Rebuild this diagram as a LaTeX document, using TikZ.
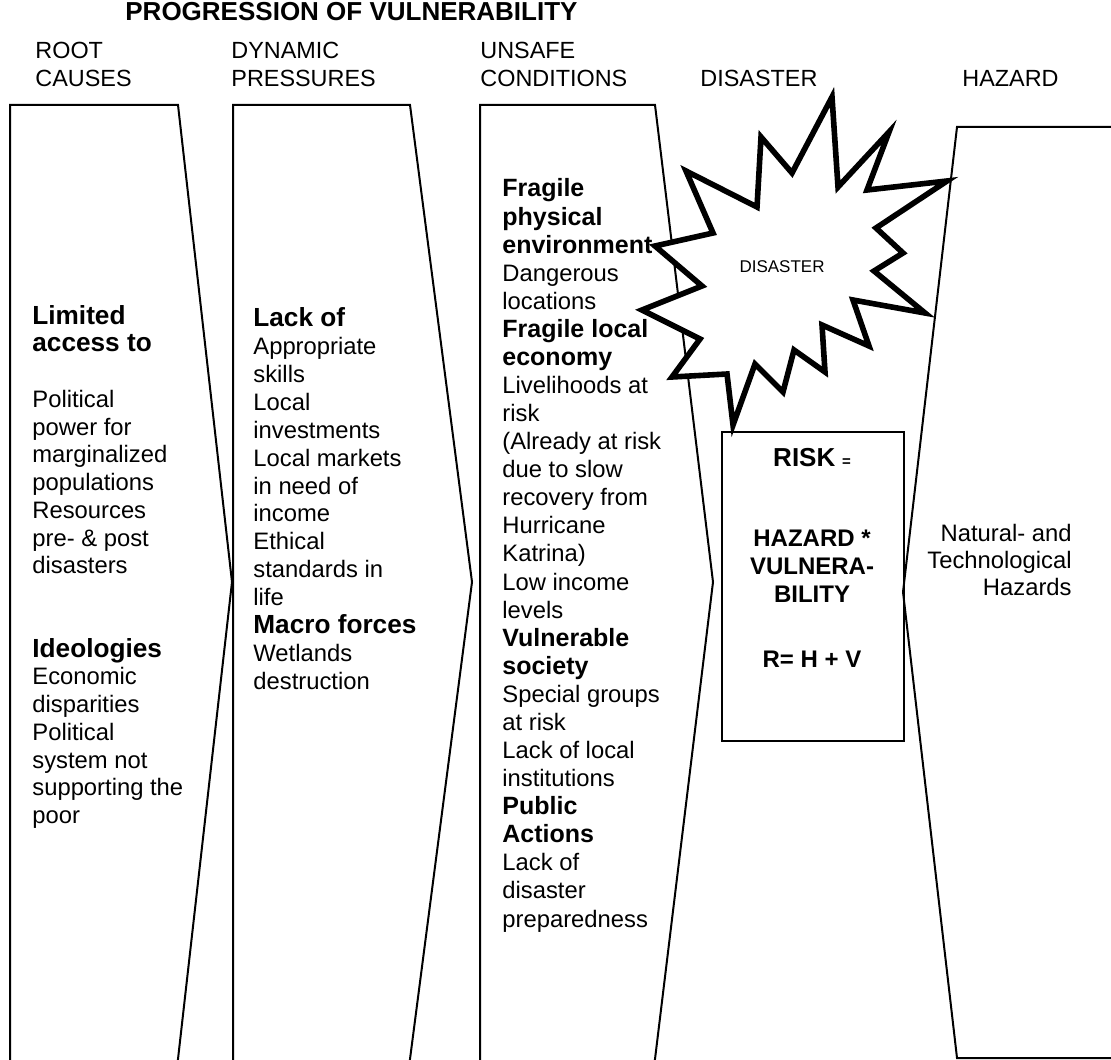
\documentclass[tikz,border=0pt]{standalone}
\usepackage{fontspec}
\setmainfont{Liberation Sans}
\newcommand{\bA}{\fontsize{13.1}{13.9}\selectfont\bfseries}
\newcommand{\bB}{\fontsize{12.5}{14}\selectfont\bfseries}
\begin{document}
\begin{tikzpicture}[x=0.5pt,y=-0.5pt,
  colline/.style={line width=1pt, line join=miter},
  hdr/.style={anchor=base west, align=left, inner sep=0pt, font=\fontsize{11.7}{14}\selectfont},
  colone/.style={anchor=base west, align=left, inner sep=0pt, font=\fontsize{11.9}{13.875}\selectfont},
  coltwo/.style={anchor=base west, align=left, inner sep=0pt, font=\fontsize{11.9}{13.925}\selectfont},
  colthree/.style={anchor=base west, align=left, inner sep=0pt, font=\fontsize{11.9}{14.04}\selectfont},
  riskbox/.style={draw, line width=1.2pt, inner sep=0pt, minimum width=91pt, minimum height=154.5pt, anchor=north west},
  risktext/.style={anchor=base, align=center, inner sep=0pt, font=\fontsize{12}{13.8}\selectfont\bfseries},
  starline/.style={line width=2.8pt, line join=miter, fill=white}
]
\useasboundingbox (0,0) rectangle (1111,1059);
\clip (0,0) rectangle (1111,1059);

% headers (anchor base = baseline of the last line)
\node[anchor=base west, inner sep=0pt, font=\fontsize{13}{15}\selectfont\bfseries] (title) at (125,21) {PROGRESSION OF VULNERABILITY};
\node[hdr] (hroot) at (35,87) {ROOT\\CAUSES};
\node[hdr] (hdyn) at (231,87) {DYNAMIC\\PRESSURES};
\node[hdr] (hunsafe) at (480,87) {UNSAFE\\CONDITIONS};
\node[hdr] (hdis) at (700,87) {DISASTER};
\node[hdr] (hhaz) at (962,87) {HAZARD};

% column shapes
\draw[colline] (10,1062) -- (10,105) -- (178,105) -- (232,582) -- (178,1059) -- (177.6,1062);
\draw[colline] (233,1062) -- (233,105) -- (410,105) -- (472,582) -- (410,1059) -- (409.6,1062);
\draw[colline] (480,1062) -- (480,105) -- (655,105) -- (713,582) -- (655,1059) -- (654.6,1062);
% hazard shape
\draw[colline] (1115,127) -- (957,127) -- (903,592) -- (957,1058) -- (1115,1058);

% column texts
\node[colone] (c1) at (32,823.5) {%
{\bA Limited}\\{\bA access to}\\~\\Political\\power for\\marginalized\\populations\\Resources\\pre- \& post\\disasters\\~\\~\\%
{\bA Ideologies}\\Economic\\disparities\\Political\\system not\\supporting the\\poor};
\node[coltwo] (c2) at (253,689) {%
{\bA Lack of}\\Appropriate\\skills\\Local\\investments\\Local markets\\in need of\\income\\Ethical\\standards in\\life\\{\bA Macro forces}\\Wetlands\\destruction};
\node[colthree] (c3) at (502,927) {%
{\bB Fragile}\\{\bB physical}\\{\bB environment}\\Dangerous\\locations\\{\bB Fragile local}\\{\bB economy}\\Livelihoods at\\risk\\(Already at risk\\due to slow\\recovery from\\Hurricane\\Katrina)\\Low income\\levels\\%
{\bB Vulnerable}\\{\bB society}\\Special groups\\at risk\\Lack of local\\institutions\\{\bB Public}\\{\bB Actions}\\Lack of\\disaster\\preparedness};

% starburst
\draw[starline] (832,97) -- (838,187) -- (889,132) -- (867,190) -- (947,181) -- (876,228) -- (903,253)
  -- (874,271) -- (925,313) -- (853,300) -- (869,346) -- (822,325) -- (825,372) -- (794,350)
  -- (783,392) -- (755,364) -- (733,425) -- (727,374) -- (672,377) -- (700,339) -- (642,310)
  -- (702,286) -- (655,246) -- (713,233) -- (686,171) -- (757,207) -- (761,137) -- (792,173) -- cycle;
\node[inner sep=0pt, font=\fontsize{8.5}{10}\selectfont] (stext) at (782,267) {DISASTER};

% risk box
\node[riskbox] (risk) at (721,431) {};
\node[risktext] (r1) at (812,466) {{\fontsize{13}{14}\selectfont RISK} {\fontsize{7.5}{9}\selectfont =}};
\node[risktext] (r2) at (812,602) {HAZARD *\\VULNERA-\\BILITY};
\node[risktext] (r3) at (812,667) {R= H + V};

% hazard text
\node[anchor=base east, align=right, inner sep=0pt, font=\fontsize{11.9}{13.5}\selectfont] (haz) at (1072,595) {Natural- and\\Technological\\Hazards};
\end{tikzpicture}
\end{document}
